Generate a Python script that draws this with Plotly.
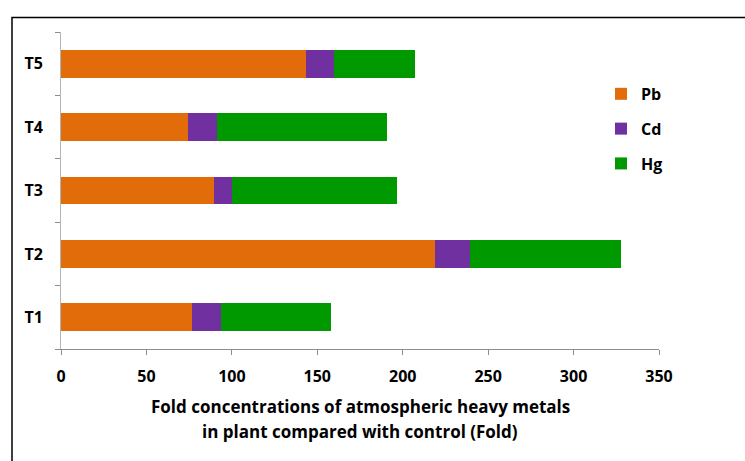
import plotly.graph_objects as go

# Treatments and fold concentrations of each metal (stacked segments)
treatments = ["T1", "T2", "T3", "T4", "T5"]
pb = [76.7, 219.1, 89.8, 74.2, 143.2]
cd = [17.0, 20.5, 10.3, 17.3, 16.4]
hg = [64.2, 88.2, 96.5, 99.5, 47.8]
x_ticks = [0, 50, 100, 150, 200, 250, 300, 350]

series = [("Pb", pb, "#E36C0A"), ("Cd", cd, "#7030A0"), ("Hg", hg, "#009900")]
font_family = "'Open Sans', Lato, sans-serif"

fig = go.Figure()
for i, (name, vals, color) in enumerate(series):
    fig.add_trace(go.Bar(
        y=treatments, x=vals, name=name, orientation="h",
        marker=dict(color=color, line=dict(width=0)),
        legendgroup=f"g{i}",
    ))

W, H = 745, 461
L, R, T, B = 61, 86, 32, 111.5
pw, ph = W - L - R, H - T - B

def px_x(v):
    return (v - L) / pw

def px_y(v):
    return (H - B - v) / ph

bold = dict(family=font_family, weight="bold", color="black")

fig.update_layout(
    width=W, height=H,
    margin=dict(l=L, r=R, t=T, b=B),
    barmode="stack", bargap=0.56,
    plot_bgcolor="white", paper_bgcolor="white",
    font=dict(family=font_family, size=15, color="black"),
    showlegend=True,
    legend=dict(
        x=px_x(601), y=px_y(77), xanchor="left", yanchor="top",
        traceorder="grouped", tracegroupgap=11,
        font=dict(size=16, **bold),
        itemwidth=30, bgcolor="rgba(0,0,0,0)",
    ),
    xaxis=dict(
        range=[0, 350], tickvals=x_ticks, ticktext=[str(v) for v in x_ticks],
        showgrid=False, zeroline=False,
        showline=True, linecolor="#8c8c8c", linewidth=1,
        ticks="outside", ticklen=5, tickcolor="#8c8c8c",
        tickfont=dict(size=16, **bold),
        ticklabelstandoff=8,
    ),
    yaxis=dict(
        categoryorder="array", categoryarray=treatments,
        showgrid=False, zeroline=False,
        showline=True, linecolor="#b5b5b5", linewidth=1,
        ticks="outside", ticklen=5, tickcolor="#8c8c8c", tickson="boundaries",
        tickfont=dict(size=16, **bold),
        ticklabelstandoff=14,
    ),
    annotations=[
        dict(text="Fold concentrations of atmospheric heavy metals",
             xref="paper", yref="paper", x=0.5, y=px_y(407),
             xanchor="center", yanchor="middle", showarrow=False,
             font=dict(size=17, **bold)),
        dict(text="in plant compared with control (Fold)",
             xref="paper", yref="paper", x=0.5, y=px_y(432),
             xanchor="center", yanchor="middle", showarrow=False,
             font=dict(size=17, **bold)),
    ],
    shapes=[
        dict(type="rect", xref="paper", yref="paper",
             x0=px_x(12), y0=px_y(480), x1=px_x(760), y1=px_y(17.5),
             line=dict(color="black", width=1.5), layer="above"),
    ],
)

fig.write_html("out.html")
